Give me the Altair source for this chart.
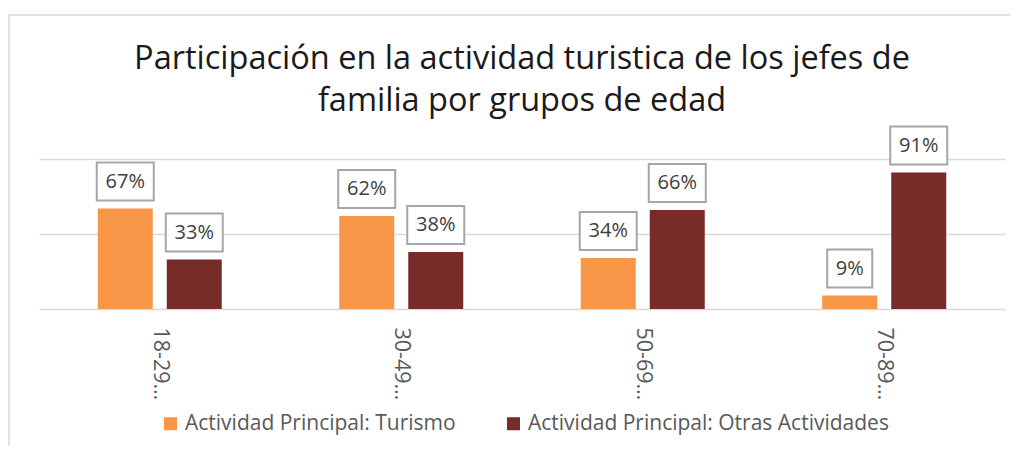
import altair as alt
import pandas as pd

title_lines = ["Participación en la actividad turistica de los jefes de",
               "familia por grupos de edad"]
categories = ["18-29…", "30-49…", "50-69…", "70-89…"]
series = ["Actividad Principal: Turismo", "Actividad Principal: Otras Actividades"]
turismo = [0.67, 0.62, 0.34, 0.09]
otras = [0.33, 0.38, 0.66, 0.91]
colors = ["#F79646", "#772C2A"]

rows = []
for c, t, o in zip(categories, turismo, otras):
    rows.append({"cat": c, "serie": series[0], "v": t})
    rows.append({"cat": c, "serie": series[1], "v": o})
df = pd.DataFrame(rows)
df["lab"] = (df["v"] * 100).round().astype(int).astype(str) + "%"
df["wide"] = df["v"] >= 0.095

FONT = "Open Sans"

x = alt.X("cat:N", sort=categories, title=None,
          scale=alt.Scale(paddingInner=0.4865, paddingOuter=0.2433),
          axis=alt.Axis(labelAngle=90, labelFontSize=21.5, labelColor="#595959",
                        labelFont=FONT, domain=False, ticks=False, labelPadding=18,
                        grid=False))
xo = alt.XOffset("serie:N", sort=series, scale=alt.Scale(paddingInner=0.203, paddingOuter=0))
y = alt.Y("v:Q", scale=alt.Scale(domain=[0, 1], nice=False), title=None,
          axis=alt.Axis(values=[0, 0.5, 1], labels=False, ticks=False, domain=False,
                        grid=True, gridColor="#D9D9D9", gridWidth=1.5))

base = alt.Chart(df)

bars = base.mark_bar().encode(
    x=x, xOffset=xo, y=y,
    color=alt.Color("serie:N", sort=series,
                    scale=alt.Scale(domain=series, range=colors),
                    legend=alt.Legend(title=None, orient="none", direction="horizontal",
                                      legendX=121, legendY=254, padding=0,
                                      symbolType="square", symbolSize=169,
                                      symbolStrokeWidth=0, labelFontSize=21,
                                      labelFont=FONT, labelColor="#595959",
                                      labelOffset=4, columnPadding=47, labelLimit=500)),
)

wide_path = "M-1,-0.667L1,-0.667L1,0.667L-1,0.667Z"
narrow_path = "M-1,-0.844L1,-0.844L1,0.844L-1,0.844Z"

box_wide = base.transform_filter("datum.wide").mark_point(
    shape=wide_path, size=57 * 57, filled=False, fill="white", fillOpacity=1,
    stroke="#A6A6A6", strokeWidth=2, opacity=1, yOffset=-27
).encode(x=x, xOffset=xo, y=y)

box_narrow = base.transform_filter("!datum.wide").mark_point(
    shape=narrow_path, size=45 * 45, filled=False, fill="white", fillOpacity=1,
    stroke="#A6A6A6", strokeWidth=2, opacity=1, yOffset=-27
).encode(x=x, xOffset=xo, y=y)

texts = base.mark_text(font=FONT, fontSize=20, color="#404040", baseline="middle",
                       align="center", yOffset=-27).encode(
    x=x, xOffset=xo, y=y, text="lab:N")

frame = alt.Chart(pd.DataFrame({"a": [0]})).mark_rect(
    fill=None, stroke="#D9D9D9", strokeWidth=1.5
).encode(x=alt.value(-30), x2=alt.value(1000), y=alt.value(-144), y2=alt.value(320))

title = alt.Chart(pd.DataFrame({"t": ["\n".join(title_lines)]})).mark_text(
    font=FONT, fontSize=32.5, color="#1a1a1a", align="center", baseline="alphabetic",
    lineBreak="\n", lineHeight=42
).encode(text="t:N", x=alt.value(483), y=alt.value(-90))

chart = alt.layer(frame, bars, box_wide, box_narrow, texts, title).properties(
    width=966, height=150,
    autosize=alt.AutoSizeParams(type="none"),
    padding={"left": 31, "top": 151, "right": 5, "bottom": 137},
).configure_view(stroke=None)

chart.save("out.html", embed_options={"renderer": "svg", "actions": False})
